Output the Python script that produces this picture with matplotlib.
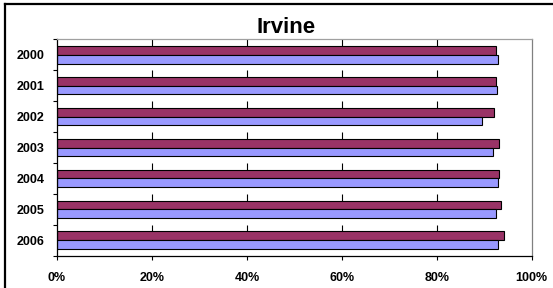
import matplotlib
matplotlib.use("Agg")
import matplotlib.pyplot as plt
from matplotlib.lines import Line2D
import numpy as np

plt.rcParams["font.family"] = ["Liberation Sans", "DejaVu Sans"]

years = ["2000", "2001", "2002", "2003", "2004", "2005", "2006"]
series_top = [92.4, 92.5, 92.0, 93.2, 93.2, 93.5, 94.2]     # maroon bars
series_bottom = [92.8, 92.7, 89.6, 91.8, 92.8, 92.5, 93.0]  # blue bars
x_ticks = [0, 20, 40, 60, 80, 100]
title = "Irvine"

W, H = 553, 288
fig = plt.figure(figsize=(W / 100, H / 100), dpi=100)
ax = fig.add_axes([57 / W, 1 - 255.7 / H, (531.7 - 57) / W, (255.7 - 39.3) / H])

pos = np.arange(len(years))
bar_h = 0.285
ax.barh(pos - bar_h / 2, series_top, height=bar_h, color="#993366",
        edgecolor="black", linewidth=0.8)
ax.barh(pos + bar_h / 2, series_bottom, height=bar_h, color="#9999FF",
        edgecolor="black", linewidth=0.8)

# short grid marks above each pair of bars
for p in pos:
    ax.vlines(x_ticks[1:-1], p - 0.5, p - bar_h, color="black", linewidth=0.8)

ax.set_xlim(0, 100)
ax.set_ylim(len(years) - 0.5, -0.5)

ax.set_xticks(x_ticks)
ax.set_xticklabels([f"{v}%" for v in x_ticks], fontsize=9, fontweight="bold")
ax.tick_params(axis="x", direction="out", length=3, width=0.8, pad=9)

ax.set_yticks(pos)
ax.set_yticklabels(years, fontsize=9, fontweight="bold")
ax.set_yticks(np.arange(len(years) + 1) - 0.5, minor=True)
ax.tick_params(axis="y", which="major", length=0, pad=9)
ax.tick_params(axis="y", which="minor", direction="out", length=3, width=0.8)

for side in ("left", "bottom"):
    ax.spines[side].set_color("black")
    ax.spines[side].set_linewidth(0.9)
ax.spines["top"].set_color("#a0a0a0")
ax.spines["top"].set_linewidth(0.9)
ax.spines["right"].set_color("#808080")
ax.spines["right"].set_linewidth(0.9)
ax.spines["right"].set_linestyle((0, (4, 1)))

fig.text(286 / W, 1 - 33 / H, title, ha="center", va="baseline",
         fontsize=16, fontweight="bold")

# outer chart border (only top and left edges visible in the crop)
fig.add_artist(Line2D([5 / W, 5 / W], [0, 1 - 4 / H], transform=fig.transFigure,
                      color="black", linewidth=1.6))
fig.add_artist(Line2D([5 / W, 1], [1 - 4 / H, 1 - 4 / H], transform=fig.transFigure,
                      color="black", linewidth=1.6))

fig.savefig("out.png", dpi=100)
